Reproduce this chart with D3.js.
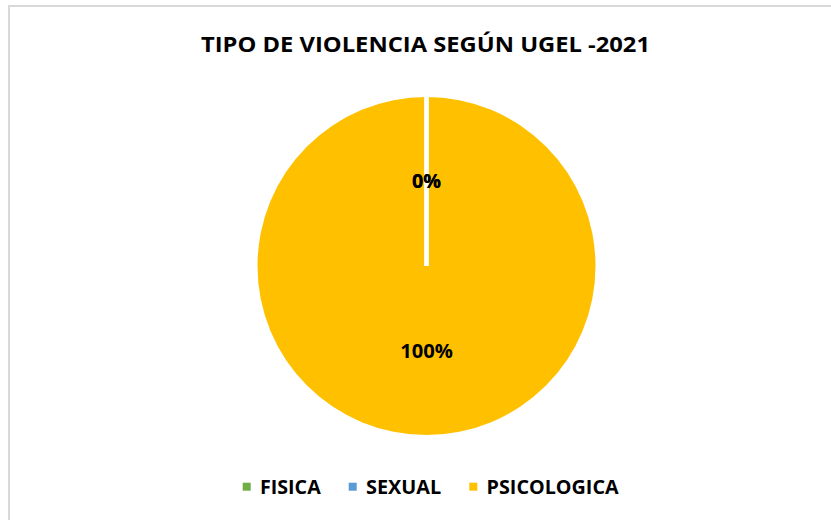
<!DOCTYPE html>
<html>
<head>
<meta charset="utf-8">
<script src="https://cdn.jsdelivr.net/npm/d3@7"></script>
<style>
  html, body { margin: 0; padding: 0; background: #fff; }
  svg { display: block; }
  text { font-family: "Open Sans", "Lato", "DejaVu Sans", sans-serif; font-weight: 700; fill: #000; }
</style>
</head>
<body>
<svg id="chart" width="831" height="520"></svg>
<script>
const title = "TIPO DE VIOLENCIA SEGÚN UGEL -2021";
const categories = ["FISICA", "SEXUAL", "PSICOLOGICA"];
const values = [0, 0, 100];
const colors = ["#70AD47", "#5B9BD5", "#FFC000"];

const svg = d3.select("#chart");

// chart frame (left and top edges visible)
svg.append("path")
  .attr("d", "M9,520 L9,6 L831,6")
  .attr("fill", "none")
  .attr("stroke", "#d9d9d9")
  .attr("stroke-width", 2);

// title
svg.append("text")
  .attr("x", 425.5).attr("y", 52)
  .attr("text-anchor", "middle")
  .attr("font-size", 22)
  .attr("textLength", 449)
  .attr("lengthAdjust", "spacingAndGlyphs")
  .text(title);

const cx = 426.5, cy = 266, r = 169;
const total = d3.sum(values);
const pie = d3.pie().sort(null).value(d => d)(values);
const arc = d3.arc().innerRadius(0).outerRadius(r);
const labelArc = d3.arc().innerRadius(r * 0.505).outerRadius(r * 0.505);

const g = svg.append("g").attr("transform", `translate(${cx},${cy})`);
g.selectAll("path.slice")
  .data(pie)
  .join("path")
  .attr("class", "slice")
  .attr("d", arc)
  .attr("fill", (d, i) => colors[i]);

// slice borders (white radial separators)
g.selectAll("line.sep")
  .data(pie)
  .join("line")
  .attr("class", "sep")
  .attr("x1", 0).attr("y1", 0)
  .attr("x2", d => d3.pointRadial(d.startAngle, r + 1)[0])
  .attr("y2", d => d3.pointRadial(d.startAngle, r + 1)[1])
  .attr("stroke", "#fff")
  .attr("stroke-width", 4);

const pct = v => Math.round(v / total * 100) + "%";
const lblWidths = { "0%": 29, "100%": 52.7 };
g.selectAll("text.lbl")
  .data(pie)
  .join("text")
  .attr("class", "lbl")
  .attr("transform", d => `translate(${labelArc.centroid(d)})`)
  .attr("text-anchor", "middle")
  .attr("dy", 7)
  .attr("font-size", 20)
  .attr("textLength", d => lblWidths[pct(d.data)])
  .attr("lengthAdjust", "spacingAndGlyphs")
  .text(d => pct(d.data));

// legend
const legendWidths = [60.7, 75.3, 132];
const sq = 8, gapText = 17.3, gapItem = 28;
let x = 242.7;
const lg = svg.append("g");
categories.forEach((c, i) => {
  lg.append("rect")
    .attr("x", x).attr("y", 482.7)
    .attr("width", sq).attr("height", sq)
    .attr("fill", colors[i]);
  lg.append("text")
    .attr("x", x + gapText).attr("y", 493.7)
    .attr("font-size", 20)
    .attr("textLength", legendWidths[i])
    .attr("lengthAdjust", "spacingAndGlyphs")
    .text(c);
  x += gapText + legendWidths[i] + gapItem;
});
</script>
</body>
</html>
